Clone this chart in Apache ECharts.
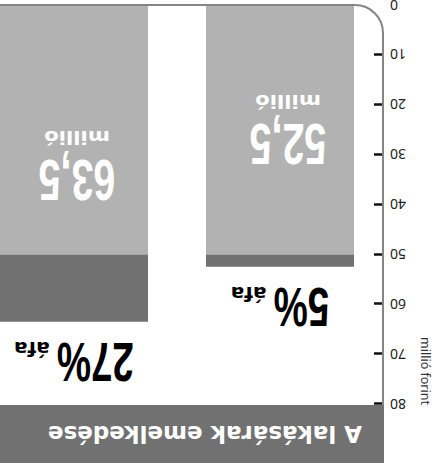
<!DOCTYPE html>
<html><head><meta charset="utf-8">
<script src="https://cdn.jsdelivr.net/npm/echarts@6/dist/echarts.min.js"></script>
<style>
html,body{margin:0;padding:0;background:#fff;overflow:hidden}
#c{width:434px;height:469px;transform:rotate(180deg);transform-origin:50% 50%;}
</style>
</head><body><div id="c"></div>
<script>
// ---- data ----
const categories = ['5% áfa', '27% áfa'];
const vatRates = [5, 27];
const netPrice = [50, 50];
const vatAmount = [2.5, 13.5];
const totalPrice = [52.5, 63.5];
const yLabelValues = [0, 10, 20, 30, 40, 50, 60, 70, 80];
const yTickValues = [10, 20, 30, 40, 50, 60, 70, 80];
const titleText = 'A lakásárak emelkedése';
const axisNameText = 'millió forint';
const unitText = 'millió';
const vatWord = 'áfa';

// ---- styles / layout ----
const GRID = { left: 51, right: -29, top: 65, bottom: 5 };
const LIGHT = '#b2b2b2', DARK = '#717171', AXIS = '#858585';
const NUM_FAMILY = '"Liberation Sans",Arial,sans-serif';
const BOLD_FAMILY = '"DejaVu Sans",Verdana,sans-serif';
const TICK_FAMILY = '"Noto Sans","Open Sans",sans-serif';
const BAR_W = 148;
const NUM_FONT = 'bold 58px ' + NUM_FAMILY, NUM_SCALE = 0.68;
const PCT_FONT = 'bold 55px ' + NUM_FAMILY, PCT_SCALE = 0.7;
const AFA_FONT = 'bold 20px ' + BOLD_FAMILY;
const UNIT_FONT = 'bold 18px ' + BOLD_FAMILY, UNIT_SCALE = 1.18;
const PCT_GAP = 7;
const numLabelShift = [[-8, -8], [-3, -17]]; // relative to bar centre
const CORNER_R = 28;

const mctx = document.createElement('canvas').getContext('2d');
function textW(t, f) { mctx.font = f; return mctx.measureText(t).width; }
const fmtNum = v => String(v).replace('.', ',');

const chart = echarts.init(document.getElementById('c'), null, { renderer: 'svg' });

chart.setOption({
  animation: false,
  grid: Object.assign({ outerBoundsMode: 'none', containLabel: false }, GRID),
  xAxis: { type: 'category', data: categories, show: false },
  yAxis: {
    type: 'value', min: 0, max: 80, interval: 10,
    axisLine: { show: false },
    splitLine: { show: false },
    axisTick: { show: true, inside: true, length: 9, lineStyle: { color: '#111', width: 2.5 }, customValues: yTickValues },
    axisLabel: { color: '#222', fontSize: 14, margin: 7, fontFamily: TICK_FAMILY, customValues: yLabelValues }
  },
  series: [
    {
      name: 'nettó', type: 'bar', stack: 'p', barWidth: BAR_W,
      data: netPrice, itemStyle: { color: LIGHT }, silent: true, emphasis: { disabled: true }
    },
    {
      name: 'áfa', type: 'bar', stack: 'p', barWidth: BAR_W,
      data: vatAmount, itemStyle: { color: DARK }, silent: true, emphasis: { disabled: true }
    },
    {
      name: 'címkék', type: 'custom', z: 20, silent: true,
      data: totalPrice.map((v, i) => [i, v]),
      encode: { x: 0, y: 1 },
      renderItem: (params, api) => {
        const i = params.dataIndex;
        const basePt = api.coord([i, 0]);
        const cx = basePt[0], base = basePt[1];
        const top = api.coord([i, api.value(1)])[1];
        const pctText = vatRates[i] + '%';
        const wPct = textW(pctText, PCT_FONT) * PCT_SCALE;
        const wAfa = textW(vatWord, AFA_FONT);
        const left = cx - (wPct + PCT_GAP + wAfa) / 2;
        const pctMid = top - 40;
        const baseline = pctMid + 20;
        const numX = cx + numLabelShift[i][0];
        const numY = (top + base) / 2 + numLabelShift[i][1];
        return {
          type: 'group',
          children: [
            { type: 'text', x: left, y: pctMid, scaleX: PCT_SCALE,
              style: { text: pctText, font: PCT_FONT, fill: '#000', align: 'left', verticalAlign: 'middle' } },
            { type: 'text', x: left + wPct + PCT_GAP, y: baseline - 7,
              style: { text: vatWord, font: AFA_FONT, fill: '#000', align: 'left', verticalAlign: 'middle' } },
            { type: 'text', x: numX, y: numY, scaleX: NUM_SCALE,
              style: { text: fmtNum(totalPrice[i]), font: NUM_FONT, fill: '#fff', align: 'center', verticalAlign: 'middle' } },
            { type: 'text', x: numX, y: numY + 43, scaleX: UNIT_SCALE,
              style: { text: unitText, font: UNIT_FONT, fill: '#fff', align: 'center', verticalAlign: 'middle' } }
          ]
        };
      }
    }
  ]
});

const yTop = chart.convertToPixel({ yAxisIndex: 0 }, 80);
const yBase = chart.convertToPixel({ yAxisIndex: 0 }, 0);
const x0 = GRID.left;
const r = CORNER_R;

chart.setOption({
  graphic: [
    { type: 'rect', id: 'titleBg', shape: { x: 50, y: 6, width: 384, height: 58 }, style: { fill: DARK }, z: 10 },
    { type: 'text', id: 'title', x: 72, y: 35, style: { text: titleText, fill: '#fff', font: 'bold 23px ' + BOLD_FAMILY, textAlign: 'left', textVerticalAlign: 'middle' }, z: 11 },
    { type: 'text', id: 'axisName', x: 9, y: 64, rotation: Math.PI / 2, style: { text: axisNameText, fill: '#333', font: '12.5px ' + TICK_FAMILY, textAlign: 'right', textVerticalAlign: 'middle' }, z: 11 },
    { type: 'line', id: 'axisV', z: 12, shape: { x1: x0, y1: yTop - 1, x2: x0, y2: yBase - r }, style: { stroke: AXIS, lineWidth: 2 } },
    { type: 'arc', id: 'axisCorner', z: 12, shape: { cx: x0 + r, cy: yBase - r, r: r, startAngle: Math.PI / 2, endAngle: Math.PI }, style: { stroke: AXIS, lineWidth: 2, fill: 'none' } },
    { type: 'line', id: 'axisH', z: 12, shape: { x1: x0 + r, y1: yBase, x2: 440, y2: yBase }, style: { stroke: AXIS, lineWidth: 2 } }
  ]
});
</script>
</body></html>
